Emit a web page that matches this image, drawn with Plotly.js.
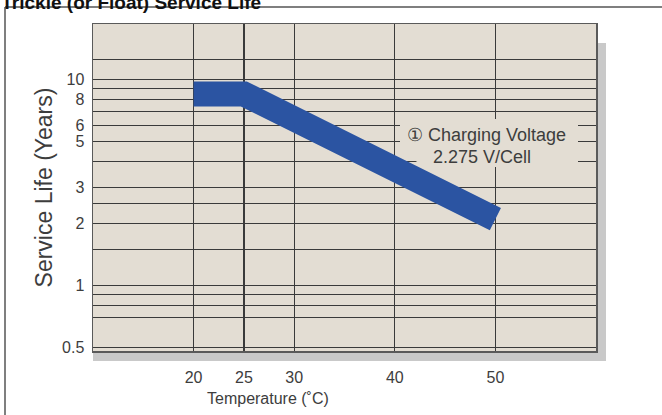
<!DOCTYPE html>
<html>
<head>
<meta charset="utf-8">
<script src="https://cdn.plot.ly/plotly-3.0.1.min.js"></script>
<style>html,body{margin:0;padding:0;background:#fff;}#chart{width:662px;height:415px;}</style>
</head>
<body>
<div id="chart"></div>
<script>
// ---- data ----
const temperature = [20, 25, 50];          // °C, vertices of the life band
const serviceLife = [8.5, 8.5, 2.1];       // years
const xTickVals = [20, 25, 30, 40, 50];
const xTickText = ['20', '25', '30', '40', '50'];
const yGridVals = [0.5, 0.7, 0.8, 0.9, 1, 1.5, 2, 2.5, 3, 4, 5, 6, 7, 8, 9, 10, 12.5];
const yTickText = ['0.5', '', '', '', '1', '', '2', '', '3', '', '5', '6', '', '8', '', '10', ''];
const chartTitle = 'Trickle (or Float) Service Life';
const xTitle = 'Temperature (˚C)';
const yTitle = 'Service Life (Years)';
const noteLine1 = '① Charging Voltage';
const noteLine2 = '2.275 V/Cell';

// ---- layout helpers (pixel -> paper) ----
const W = 662, H = 415;
const L = 93, R = 596, T = 24, B = 351;
const pw = R - L, ph = B - T;
const px = v => (v - L) / pw;
const py = v => (B - v) / ph;

const FONT = 'Liberation Sans, Arial, Helvetica, sans-serif';
const TXT = '#3d3d3d';
const BG = '#e3ddd3';

const trace = {
  x: temperature,
  y: serviceLife,
  type: 'scatter',
  mode: 'lines',
  line: {color: '#2b54a2', width: 25},
  hoverinfo: 'skip',
  showlegend: false
};

// note background: a box with its lower-left corner trimmed so it never covers the band
const noteBox = 'M ' + px(400) + ' ' + py(119) +
                ' L ' + px(578) + ' ' + py(119) +
                ' L ' + px(578) + ' ' + py(167) +
                ' L ' + px(426) + ' ' + py(167) +
                ' L ' + px(400) + ' ' + py(152) + ' Z';

const layout = {
  width: W, height: H,
  margin: {l: L, r: W - R, t: T, b: H - B, pad: 0},
  paper_bgcolor: '#ffffff',
  plot_bgcolor: 'rgba(0,0,0,0)',
  showlegend: false,
  title: {
    text: '<b>' + chartTitle + '</b>',
    font: {family: FONT, size: 19, color: '#111'},
    x: 0.002, xanchor: 'left', xref: 'container',
    y: 1 - 9 / H, yanchor: 'bottom', yref: 'container'
  },
  xaxis: {
    type: 'linear',
    range: [10, 60],
    tickmode: 'array',
    tickvals: xTickVals,
    ticktext: xTickText,
    ticks: '',
    ticklabelstandoff: 11,
    tickfont: {family: FONT, size: 16, color: TXT},
    showgrid: true, gridcolor: '#3a3a3a', gridwidth: 1.2,
    zeroline: false,
    showline: true, mirror: true, linecolor: '#5a5a5a', linewidth: 1.5,
    fixedrange: true
  },
  yaxis: {
    type: 'log',
    range: [-0.318, 1.269],
    tickmode: 'array',
    tickvals: yGridVals,
    ticktext: yTickText,
    ticks: '',
    ticklabelstandoff: 4,
    tickfont: {family: FONT, size: 16, color: TXT},
    showgrid: true, gridcolor: '#3a3a3a', gridwidth: 1.2,
    zeroline: false,
    showline: true, mirror: true, linecolor: '#5a5a5a', linewidth: 1.5,
    title: {text: yTitle, font: {family: FONT, size: 23, color: TXT}, standoff: 3},
    fixedrange: true
  },
  shapes: [
    // drop shadow
    {type: 'rect', xref: 'paper', yref: 'paper', layer: 'below',
     x0: px(L), x1: px(R + 10), y0: py(B + 10), y1: py(T + 19),
     fillcolor: '#c9c9c9', line: {width: 0}},
    // plot area fill
    {type: 'rect', xref: 'paper', yref: 'paper', layer: 'below',
     x0: 0, x1: 1, y0: 0, y1: 1,
     fillcolor: BG, line: {width: 0}},
    // note box background (hides grid lines behind the note)
    {type: 'path', xref: 'paper', yref: 'paper', layer: 'above',
     path: noteBox, fillcolor: BG, line: {width: 0}},
    // outer frame
    {type: 'line', xref: 'paper', yref: 'paper', layer: 'above',
     x0: px(5), x1: px(W + 5), y0: py(7), y1: py(7),
     line: {color: '#555', width: 1.5}},
    {type: 'line', xref: 'paper', yref: 'paper', layer: 'above',
     x0: px(5), x1: px(5), y0: py(7), y1: py(H + 5),
     line: {color: '#555', width: 1.5}}
  ],
  annotations: [
    {text: xTitle, xref: 'paper', yref: 'paper', x: px(268), y: py(398),
     xanchor: 'center', yanchor: 'middle', showarrow: false,
     font: {family: FONT, size: 16, color: TXT}},
    {text: noteLine1, xref: 'paper', yref: 'paper', x: px(405), y: py(135),
     xanchor: 'left', yanchor: 'middle', showarrow: false,
     font: {family: FONT, size: 18, color: TXT}},
    {text: noteLine2, xref: 'paper', yref: 'paper', x: px(431), y: py(157),
     xanchor: 'left', yanchor: 'middle', showarrow: false,
     font: {family: FONT, size: 18, color: TXT}}
  ]
};

Plotly.newPlot('chart', [trace], layout, {staticPlot: true, displayModeBar: false});
</script>
</body>
</html>
